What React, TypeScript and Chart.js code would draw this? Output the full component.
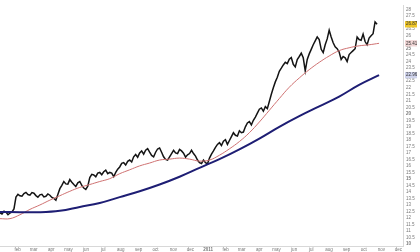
import { useEffect, useRef } from "react";
import { Chart, registerables } from "chart.js";

Chart.register(...registerables);

// Days since 1 Jan 2010
const PRICE_STEP_DAYS = 3.5;
const RED_STEP_DAYS = 17.5;
const BLUE_STEP_DAYS = 35;

const priceValues = [
  12.4, 12.3, 12.52, 12.45, 12.25, 12.38, 12.47, 12.7, 13.6, 13.82,
  13.7, 13.67, 13.88, 13.97, 13.8, 13.75, 13.95, 13.9, 13.72, 13.6,
  13.78, 13.82, 13.62, 13.67, 13.85, 13.75, 13.58, 13.5, 13.37, 13.8,
  14.25, 14.5, 14.8, 14.62, 14.6, 14.95, 14.75, 14.58, 14.42, 14.7,
  14.8, 14.5, 14.3, 14.2, 14.45, 15.1, 15.35, 15.3, 15.17, 15.45,
  15.5, 15.32, 15.55, 15.68, 15.4, 15.5, 15.45, 15.17, 15.5, 15.75,
  15.92, 16.2, 16.25, 16.07, 16.35, 16.45, 16.3, 16.7, 16.88, 16.67,
  17.0, 17.15, 16.9, 17.2, 17.32, 17.05, 16.8, 16.7, 17.05, 17.3,
  17.38, 17.05, 16.7, 16.5, 16.45, 16.7, 16.95, 17.2, 17.0, 16.95,
  17.27, 17.15, 16.98, 16.67, 16.85, 16.95, 17.2, 16.95, 16.75, 16.45,
  16.25, 16.18, 16.45, 16.25, 16.15, 16.6, 16.9, 17.15, 17.42, 17.65,
  17.78, 17.57, 17.9, 18.02, 17.65, 17.95, 18.25, 18.55, 18.35, 18.3,
  18.7, 18.55, 18.6, 19.0, 19.3, 19.4, 19.15, 19.5, 19.75, 20.05,
  20.35, 20.45, 20.2, 20.55, 20.4, 20.95, 21.5, 22.0, 22.45, 22.8,
  23.27, 23.5, 23.75, 23.95, 23.85, 24.2, 24.32, 23.8, 23.6, 24.17,
  24.4, 24.65, 24.3, 23.3, 24.17, 24.6, 24.95, 25.3, 25.6, 25.9,
  25.7, 24.95, 24.7, 25.3, 25.75, 26.42, 25.9, 25.45, 25.15, 25.0,
  24.75, 24.17, 24.4, 24.3, 24.02, 24.55, 24.7, 24.85, 25.0, 25.9,
  25.7, 25.65, 26.12, 25.55, 25.3, 25.82, 26.0, 26.15, 27.05, 26.875,
];

const redMA = [
  11.95, 11.95, 12.25, 12.66, 13.0, 13.37, 13.71, 14.05, 14.35, 14.57,
  14.8, 15.02, 15.4, 15.7, 16.0, 16.22, 16.45, 16.52, 16.6, 16.52,
  16.37, 16.45, 16.82, 17.31, 17.87, 18.55, 19.37, 20.27, 21.17, 22.04,
  22.75, 23.39, 23.95, 24.44, 24.85, 25.07, 25.22, 25.3, 25.412,
];

const blueMA = [
  12.47, 12.45, 12.44, 12.55, 12.85, 13.15, 13.6, 14.05, 14.57, 15.17,
  15.85, 16.52, 17.27, 18.1, 19.0, 19.82, 20.57, 21.32, 22.22, 22.968,
];

const monthTickDays = [31, 59, 90, 120, 151, 181, 212, 243, 273, 304, 334, 365, 396, 424, 455, 485, 516, 546, 577, 608, 638, 669, 699];
const monthTickLabels = ["feb", "mar", "apr", "may", "jun", "jul", "aug", "sep", "oct", "nov", "dec", "2011", "feb", "mar", "apr", "may", "jun", "jul", "aug", "sep", "oct", "nov", "dec"];

const yTickValues = [
  10, 10.5, 11, 11.5, 12, 12.5, 13, 13.5, 14, 14.5, 15, 15.5, 16, 16.5, 17, 17.5,
  18, 18.5, 19, 19.5, 20, 20.5, 21, 21.5, 22, 22.5, 23.5, 24, 24.5, 25, 26, 26.5, 27.5, 28,
];

export default function App() {
  const ref = useRef<HTMLCanvasElement>(null);

  useEffect(() => {
    const lastPrice = priceValues[priceValues.length - 1];
    const lastRed = redMA[redMA.length - 1];
    const lastBlue = blueMA[blueMA.length - 1];
    const highlights: { v: number; bg: string }[] = [
      { v: lastPrice, bg: "#eec62a" },
      { v: lastRed, bg: "#f1d6d6" },
      { v: lastBlue, bg: "#cfd3ec" },
    ];
    const hl = (v: number) => highlights.find((h) => h.v === v);
    const allYTicks = [...yTickValues, ...highlights.map((h) => h.v)].sort((a, b) => a - b);

    const chart = new Chart(ref.current!, {
      type: "line",
      data: {
        datasets: [
          {
            data: blueMA.map((v, i) => ({ x: i * BLUE_STEP_DAYS, y: v })),
            borderColor: "#1e1e74",
            borderWidth: 2,
            pointRadius: 0,
            tension: 0.4,
          },
          {
            data: redMA.map((v, i) => ({ x: i * RED_STEP_DAYS, y: v })),
            borderColor: "#cf7272",
            borderWidth: 1,
            pointRadius: 0,
            tension: 0.4,
          },
          {
            data: priceValues.map((v, i) => ({ x: i * PRICE_STEP_DAYS, y: v })),
            borderColor: "#141414",
            borderWidth: 1.5,
            pointRadius: 0,
            tension: 0,
          },
        ],
      },
      options: {
        animation: false,
        responsive: false,
        maintainAspectRatio: false,
        layout: { padding: { left: 0, right: 3, top: 0, bottom: 0 } },
        plugins: { legend: { display: false }, tooltip: { enabled: false } },
        scales: {
          x: {
            type: "linear",
            min: 0,
            max: 707,
            grid: { display: false, drawTicks: false },
            border: { display: true, color: "#d8d8d8" },
            afterBuildTicks: (s: any) => {
              s.ticks = monthTickDays.map((v) => ({ value: v }));
            },
            afterFit: (s: any) => {
              s.height = 6;
            },
            ticks: {
              autoSkip: false,
              maxRotation: 0,
              padding: 1,
              color: "#777",
              font: (ctx: any) => ({
                size: 4.5,
                family: "Liberation Sans",
                weight: monthTickLabels[monthTickDays.indexOf(ctx.tick?.value)] === "2011" ? "bold" : "normal",
              }),
              callback: (value: any) => monthTickLabels[monthTickDays.indexOf(Number(value))] ?? "",
            },
          },
          y: {
            position: "right",
            min: 9.85,
            max: 28.3,
            grid: { display: false, drawTicks: false },
            border: { display: true, color: "#d8d8d8" },
            afterBuildTicks: (s: any) => {
              s.ticks = allYTicks.map((v) => ({ value: v }));
            },
            afterFit: (s: any) => {
              s.width = 14;
            },
            ticks: {
              autoSkip: false,
              padding: 3,
              color: (ctx: any) => (hl(ctx.tick?.value) ? "#333" : "#777"),
              font: (ctx: any) => ({
                size: 4.5,
                family: "Liberation Sans",
                weight: ctx.tick && ctx.tick.value % 5 === 0 ? "bold" : "normal",
              }),
              showLabelBackdrop: (ctx: any) => !!hl(ctx.tick?.value),
              backdropColor: (ctx: any) => hl(ctx.tick?.value)?.bg ?? "rgba(0,0,0,0)",
              backdropPadding: { left: 1, right: 1, top: 0.5, bottom: 0.5 },
              callback: (value: any) => {
                const v = Number(value);
                return hl(v) ? v.toFixed(3) : String(v);
              },
            },
          },
        },
      },
    });
    return () => chart.destroy();
  }, []);

  return (
    <div style={{ position: "fixed", left: 0, top: 0, width: 420, height: 252, background: "#fff" }}>
      <canvas ref={ref} width={420} height={252} style={{ width: 420, height: 252, display: "block" }} />
    </div>
  );
}
